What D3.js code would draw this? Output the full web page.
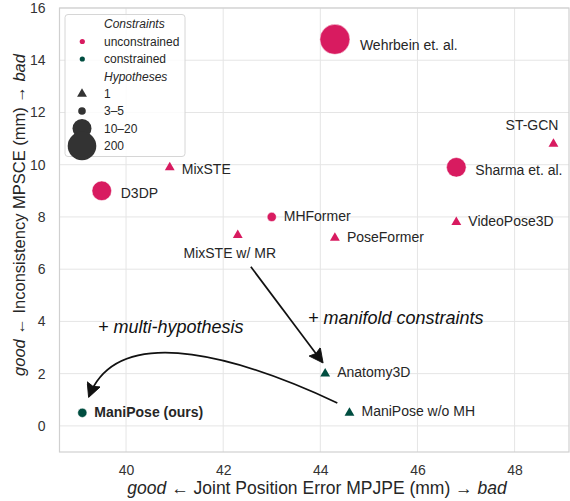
<!DOCTYPE html>
<html>
<head>
<meta charset="utf-8">
<script src="https://cdn.jsdelivr.net/npm/d3@7"></script>
<style>
  body { margin: 0; background: #fff; }
  svg { display: block; font-family: "Liberation Sans", Arial, sans-serif; }
</style>
</head>
<body>
<div id="chart"></div>
<script>
// data
var methods = ["Wehrbein et. al.", "ST-GCN", "Sharma et. al.", "MixSTE", "D3DP", "MHFormer",
  "VideoPose3D", "PoseFormer", "MixSTE w/ MR", "Anatomy3D", "ManiPose w/o MH", "ManiPose (ours)"]
var mpjpe = [44.3, 48.8, 46.8, 40.9, 39.5, 43.0, 46.8, 44.3, 42.3, 44.1, 44.6, 39.1]
var mpsce = [14.8, 10.8, 9.9, 9.9, 9.0, 8.0, 7.8, 7.2, 7.3, 2.0, 0.5, 0.5]
var constraint = ["unconstrained", "unconstrained", "unconstrained", "unconstrained", "unconstrained",
  "unconstrained", "unconstrained", "unconstrained", "unconstrained", "constrained", "constrained", "constrained"]
var hypotheses = ["200", "1", "10–20", "1", "10–20", "3–5", "1", "1", "1", "1", "1", "3–5"]

var constraintLevels = ["unconstrained", "constrained"]
var hypLevels = ["1", "3–5", "10–20", "200"]
var xTicks = [40, 42, 44, 46, 48]
var yTicks = [0, 2, 4, 6, 8, 10, 12, 14, 16]

// label placement (dx, dy in px, anchor)
var labelPos = [[25, 11, "start"], [5, -14, "end"], [19, 8, "start"], [12, 7, "start"], [19, 7, "start"],
  [12, 4, "start"], [12, 4, "start"], [12, 4, "start"], [-8, 23, "middle"], [12, 3, "start"],
  [12, 3, "start"], [12, 4, "start"]]

var width = 570, height = 501
var margin = {left: 59.5, right: 1, top: 8, bottom: 49}

var svg = d3.select("#chart").append("svg")
  .attr("width", width).attr("height", height)

var x = d3.scaleLinear().domain([38.63, 49.12]).range([margin.left, width - margin.right])
var y = d3.scaleLinear().domain([-1, 16]).range([height - margin.bottom, margin.top])

var color = d3.scaleOrdinal().domain(constraintLevels).range(["#d81b60", "#004d40"])
var radius = d3.scaleOrdinal().domain(hypLevels).range([0, 4.6, 9.8, 15])

var defs = svg.append("defs")

// grid
svg.append("g").selectAll("line").data(xTicks).enter().append("line")
  .attr("x1", d => x(d)).attr("x2", d => x(d))
  .attr("y1", y.range()[0]).attr("y2", y.range()[1])
  .attr("stroke", "#e5e5e5").attr("stroke-width", 1)
svg.append("g").selectAll("line").data(yTicks).enter().append("line")
  .attr("y1", d => y(d)).attr("y2", d => y(d))
  .attr("x1", x.range()[0]).attr("x2", x.range()[1])
  .attr("stroke", "#e5e5e5").attr("stroke-width", 1)

// frame
svg.append("rect")
  .attr("x", x.range()[0]).attr("y", y.range()[1])
  .attr("width", x.range()[1] - x.range()[0]).attr("height", y.range()[0] - y.range()[1])
  .attr("fill", "none").attr("stroke", "#d0d0d0").attr("stroke-width", 1.2)

// axes
var xAxis = svg.append("g")
  .attr("transform", "translate(0," + y.range()[0] + ")")
  .call(d3.axisBottom(x).tickValues(xTicks).tickSize(0).tickPadding(13))
var yAxis = svg.append("g")
  .attr("transform", "translate(" + x.range()[0] + ",0)")
  .call(d3.axisLeft(y).tickValues(yTicks).tickSize(0).tickPadding(14))
;[xAxis, yAxis].forEach(function(a) {
  a.select(".domain").remove()
  a.selectAll("text").attr("fill", "#333").style("font-size", "14px")
    .style("font-family", "'Liberation Sans', Arial, sans-serif")
})

// axis titles
var xt = svg.append("text").attr("x", 317).attr("y", 494)
  .attr("text-anchor", "middle").attr("fill", "#262626").style("font-size", "17.5px")
xt.append("tspan").style("font-style", "italic").text("good")
xt.append("tspan").text(" ← Joint Position Error MPJPE (mm) → ")
xt.append("tspan").style("font-style", "italic").text("bad")

var yt = svg.append("text").attr("transform", "translate(25,215) rotate(-90)")
  .attr("text-anchor", "middle").attr("fill", "#262626").style("font-size", "16.5px")
yt.append("tspan").style("font-style", "italic").text("good")
yt.append("tspan").text(" ← Inconsistency MPSCE (mm) → ")
yt.append("tspan").style("font-style", "italic").text("bad")

// arrows (annotation)
defs.append("marker")
  .attr("id", "head").attr("viewBox", "0 0 10 10")
  .attr("refX", 9).attr("refY", 5)
  .attr("markerWidth", 17).attr("markerHeight", 14)
  .attr("markerUnits", "userSpaceOnUse")
  .attr("orient", "auto")
  .append("path").attr("d", "M0,0 L10,5 L0,10 L1.5,5 Z").attr("fill", "#111")
  .attr("stroke", "#111").attr("stroke-width", 0.6)

var arrows = svg.append("g")
var a1 = [[42.57, 6.09], [44.04, 2.45]]
arrows.append("path")
  .attr("d", d3.line()(a1.map(p => [x(p[0]), y(p[1])])))
  .attr("fill", "none").attr("stroke", "#111").attr("stroke-width", 1.7)
  .attr("marker-end", "url(#head)")

var a2 = [[44.35, 0.88], [42.55, 2.45], [39.87, 4.15], [39.24, 1.14]]
var p2 = a2.map(p => [x(p[0]), y(p[1])])
arrows.append("path")
  .attr("d", "M" + p2[0] + "C" + p2[1] + " " + p2[2] + " " + p2[3])
  .attr("fill", "none").attr("stroke", "#111").attr("stroke-width", 1.7)
  .attr("marker-end", "url(#head)")

svg.append("text").attr("x", 98).attr("y", 333)
  .style("font-size", "18px").style("font-style", "italic").attr("fill", "#111")
  .text("+ multi-hypothesis")
svg.append("text").attr("x", 308).attr("y", 324)
  .style("font-size", "18px").style("font-style", "italic").attr("fill", "#111")
  .text("+ manifold constraints")

// points
var tri = d3.symbol().type(d3.symbolTriangle).size(42)
var pts = svg.append("g").selectAll("g").data(methods).enter().append("g")
  .attr("transform", (d, i) => "translate(" + x(mpjpe[i]) + "," + y(mpsce[i]) + ")")
pts.each(function(d, i) {
  var g = d3.select(this)
  if (hypotheses[i] === "1") {
    g.append("path").attr("d", tri).attr("fill", color(constraint[i]))
  } else {
    g.append("circle").attr("r", radius(hypotheses[i])).attr("fill", color(constraint[i]))
      .attr("stroke", "#fff").attr("stroke-width", 0.5)
  }
  g.append("text")
    .attr("x", labelPos[i][0]).attr("y", labelPos[i][1])
    .attr("text-anchor", labelPos[i][2])
    .attr("fill", "#262626").style("font-size", "14px")
    .style("font-weight", d === "ManiPose (ours)" ? "bold" : "normal")
    .text(d)
})

// legend
var lg = svg.append("g")
lg.append("rect").attr("x", 65).attr("y", 14.5).attr("width", 120).attr("height", 142)
  .attr("rx", 3).attr("fill", "#fff").attr("fill-opacity", 0.85)
  .attr("stroke", "#d6d6d6").attr("stroke-width", 1)
var rowY = [24, 41.5, 59, 76.5, 94, 111, 128.5, 146]
var legendRows = [{t: "Constraints", title: true}]
  .concat(constraintLevels.map(c => ({t: c, kind: "c"})))
  .concat([{t: "Hypotheses", title: true}])
  .concat(hypLevels.map(h => ({t: h, kind: "h"})))
legendRows.forEach(function(r, i) {
  var yy = rowY[i]
  lg.append("text").attr("x", 104).attr("y", yy).attr("dy", "0.35em")
    .attr("fill", "#262626").style("font-size", "12px")
    .style("font-style", r.title ? "italic" : "normal").text(r.t)
  if (r.kind === "c") {
    lg.append("circle").attr("cx", 82.3).attr("cy", yy).attr("r", 2.6).attr("fill", color(r.t))
  } else if (r.kind === "h") {
    if (r.t === "1") {
      lg.append("path").attr("transform", "translate(82," + yy + ")").attr("d", tri).attr("fill", "#333")
    } else {
      var rr = {"3–5": 3.8, "10–20": 9.5, "200": 14.3}[r.t]
      lg.append("circle").attr("cx", 82).attr("cy", yy).attr("r", rr).attr("fill", "#333")
    }
  }
})
</script>
</body>
</html>
